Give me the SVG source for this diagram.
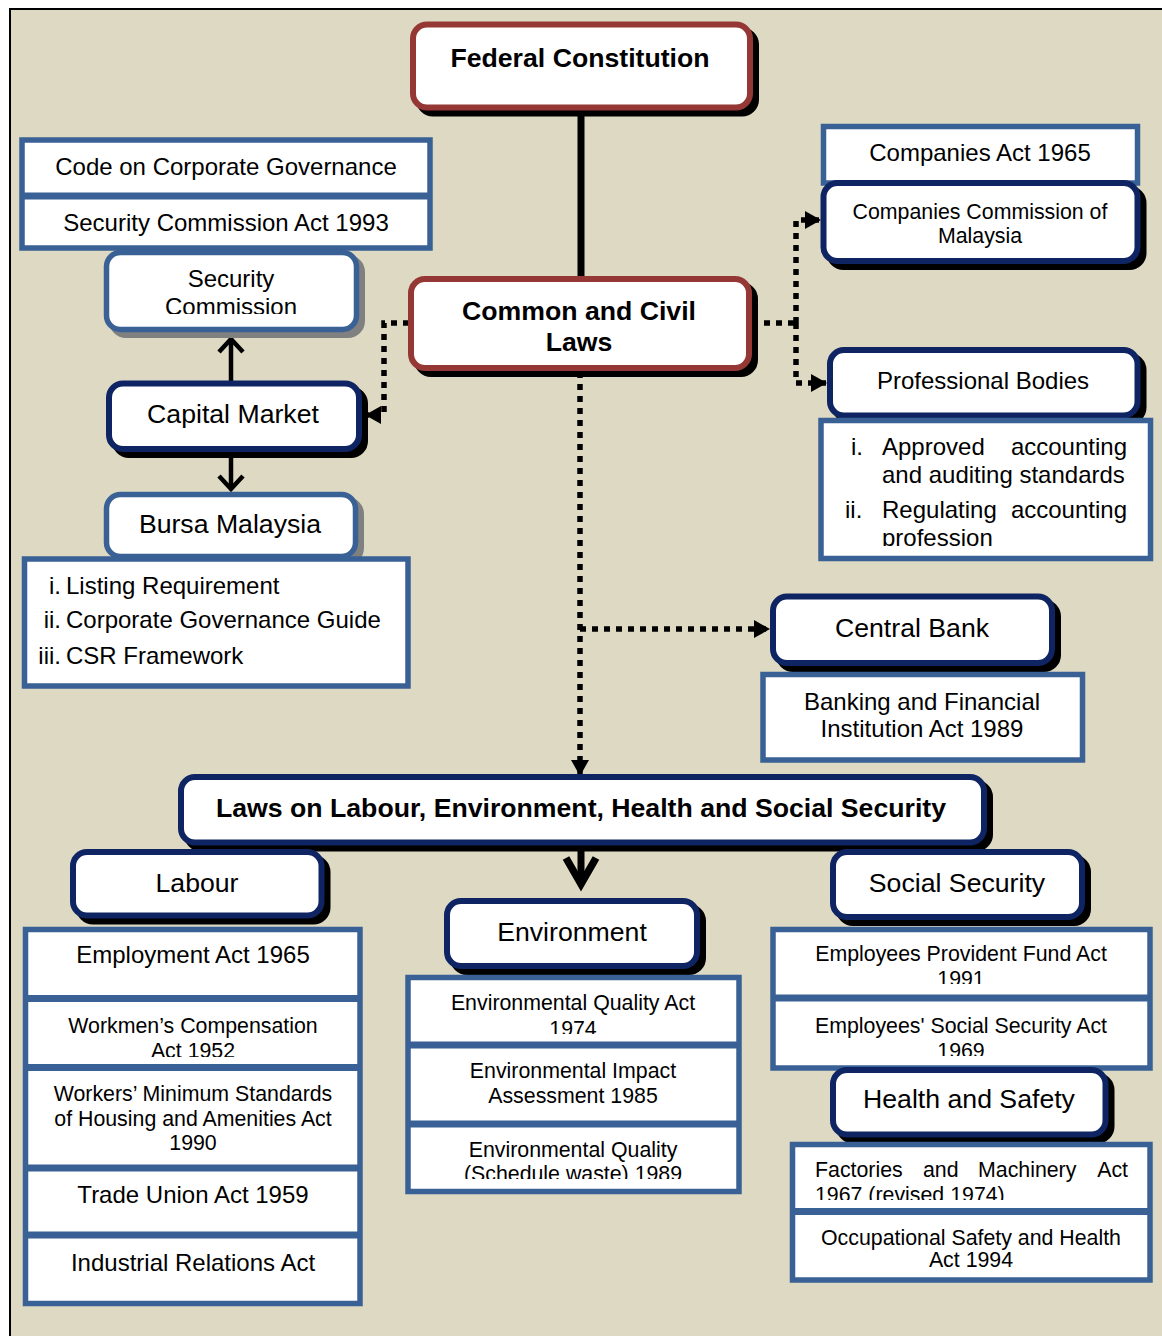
<svg xmlns="http://www.w3.org/2000/svg" width="1162" height="1336" viewBox="0 0 1162 1336">
  <style>
    text { font-family: "Liberation Sans", Arial, sans-serif; fill: #000; text-anchor: middle; }
    .b { font-weight: bold; font-size: 26.67px; }
    .t20 { font-size: 26.67px; }
    .t18 { font-size: 24px; }
    .t16 { font-size: 21.33px; }
    .st { text-anchor: start; }
    .en { text-anchor: end; }
    .red { fill: #fff; stroke: #953735; stroke-width: 6; }
    .navy { fill: #fff; stroke: #0f2463; stroke-width: 6; }
    .blue { fill: #fff; stroke: #3a6195; stroke-width: 5.5; }
    .sep { fill: none; stroke: #3a6195; stroke-width: 7; }
    .shd { fill: #000; stroke: #000; stroke-width: 6; }
    .gshd { fill: #808080; stroke: #808080; stroke-width: 6; }
    .dot { fill: none; stroke: #000; stroke-width: 5.5; stroke-dasharray: 6 6; }
    .solid { fill: none; stroke: #000; stroke-width: 4.5; }
  </style>
  <defs>
    <marker id="tri" markerUnits="userSpaceOnUse" markerWidth="16" markerHeight="18" refX="16" refY="9" orient="auto">
      <path d="M0,0 L16,9 L0,18 z" fill="#000"/>
    </marker>
    <clipPath id="cSec"><rect x="100" y="250" width="260" height="64"/></clipPath>
    <clipPath id="cProf"><rect x="820" y="420" width="330" height="126"/></clipPath>
    <clipPath id="cWork"><rect x="25" y="998" width="335" height="59"/></clipPath>
    <clipPath id="cEq"><rect x="408" y="978" width="331" height="56"/></clipPath>
    <clipPath id="cSw"><rect x="408" y="1124" width="331" height="55"/></clipPath>
    <clipPath id="cEpf"><rect x="773" y="929" width="377" height="55"/></clipPath>
    <clipPath id="cSocso"><rect x="773" y="998" width="377" height="58"/></clipPath>
    <clipPath id="cFma"><rect x="792" y="1144" width="358" height="56"/></clipPath>
  </defs>

  <!-- page and frame -->
  <rect x="0" y="0" width="1162" height="1336" fill="#fff"/>
  <rect x="10" y="9" width="1160" height="1340" fill="#ddd9c3" stroke="#000" stroke-width="2"/>

  <!-- connectors -->
  <g id="connectors">
    <line x1="581" y1="112" x2="581" y2="278" stroke="#000" stroke-width="7"/>
    <path class="dot" d="M409,323 H384 V415 H365" marker-end="url(#tri)"/>
    <path class="dot" d="M752,323 H796"/>
    <path class="dot" d="M796,323 V220 H821" marker-end="url(#tri)"/>
    <path class="dot" d="M796,323 V383 H827" marker-end="url(#tri)"/>
    <path class="dot" d="M580,372 V776" marker-end="url(#tri)"/>
    <path class="dot" d="M580,629 H770" marker-end="url(#tri)"/>
    <path class="solid" d="M231,381 V340"/>
    <path class="solid" d="M219,352 L231,339 L243,352" stroke-linejoin="miter"/>
    <path class="solid" d="M231,452 V488"/>
    <path class="solid" d="M219,476 L231,489 L243,476" stroke-linejoin="miter"/>
    <path d="M581,848 V882" stroke="#000" stroke-width="7" fill="none"/>
    <path d="M566,858 L581,884 L596,858" stroke="#000" stroke-width="7.5" fill="none"/>
  </g>

  <!-- top -->
  <g id="federal-constitution">
    <rect class="shd" x="419" y="30.5" width="337" height="83" rx="14"/>
    <rect class="red" x="413" y="24.5" width="337" height="83" rx="14"/>
    <text class="b" x="580" y="67">Federal Constitution</text>
  </g>
  <g id="common-civil-laws">
    <rect class="shd" x="417" y="285" width="338" height="89" rx="14"/>
    <rect class="red" x="411" y="279" width="338" height="89" rx="14"/>
    <text class="b" x="579" y="320">Common and Civil</text>
    <text class="b" x="579" y="351">Laws</text>
  </g>

  <!-- capital market branch -->
  <g id="sc-acts">
    <rect class="blue" x="22" y="140" width="408" height="108"/>
    <line class="sep" x1="22" y1="196" x2="430" y2="196"/>
    <text class="t18" x="226" y="175">Code on Corporate Governance</text>
    <text class="t18" x="226" y="231">Security Commission Act 1993</text>
  </g>
  <g id="security-commission">
    <rect class="gshd" x="112" y="258" width="250" height="77" rx="14"/>
    <rect class="blue" x="106.5" y="252.5" width="250" height="77" rx="14"/>
    <text class="t18" x="231" y="287">Security</text>
    <text class="t18" x="231" y="315" clip-path="url(#cSec)">Commission</text>
  </g>
  <g id="capital-market">
    <rect class="shd" x="115" y="389.5" width="250" height="65.5" rx="14"/>
    <rect class="navy" x="109" y="383.5" width="250" height="65.5" rx="14"/>
    <text class="t20" x="233" y="423">Capital Market</text>
  </g>
  <g id="bursa-malaysia">
    <rect class="gshd" x="112" y="500" width="249" height="62" rx="14"/>
    <rect class="blue" x="106.5" y="494.5" width="249" height="62" rx="14"/>
    <text class="t20" x="230" y="533">Bursa Malaysia</text>
  </g>
  <g id="bursa-items">
    <rect class="blue" x="24.5" y="559" width="383.5" height="127"/>
    <text class="t18 en" x="61" y="594">i.</text>
    <text class="t18 st" x="66" y="594">Listing Requirement</text>
    <text class="t18 en" x="61" y="628">ii.</text>
    <text class="t18 st" x="66" y="628">Corporate Governance Guide</text>
    <text class="t18 en" x="61" y="664">iii.</text>
    <text class="t18 st" x="66" y="664">CSR Framework</text>
  </g>

  <!-- companies branch -->
  <g id="companies-act">
    <rect class="blue" x="823.5" y="126.5" width="314" height="56.5"/>
    <text class="t18" x="980" y="161">Companies Act 1965</text>
  </g>
  <g id="companies-commission">
    <rect class="shd" x="829.5" y="189" width="314" height="78" rx="14"/>
    <rect class="navy" x="823.5" y="183" width="314" height="78" rx="14"/>
    <text class="t16" x="980" y="219">Companies Commission of</text>
    <text class="t16" x="980" y="243">Malaysia</text>
  </g>
  <g id="professional-bodies">
    <rect class="shd" x="836" y="356" width="307.5" height="65.5" rx="14"/>
    <rect class="navy" x="830" y="350" width="307.5" height="65.5" rx="14"/>
    <text class="t18" x="983" y="389">Professional Bodies</text>
  </g>
  <g id="professional-items">
    <rect class="blue" x="821" y="420.5" width="329.5" height="138"/>
    <text class="t18 st" x="851" y="455">i.</text>
    <text class="t18 st" x="882" y="455">Approved</text>
    <text class="t18 en" x="1127" y="455">accounting</text>
    <text class="t18 st" x="882" y="483">and auditing standards</text>
    <text class="t18 st" x="845" y="518">ii.</text>
    <text class="t18 st" x="882" y="518">Regulating</text>
    <text class="t18 en" x="1127" y="518">accounting</text>
    <text class="t18 st" x="882" y="546" clip-path="url(#cProf)">profession</text>
  </g>

  <!-- central bank -->
  <g id="central-bank">
    <rect class="shd" x="779" y="602.5" width="279" height="66.5" rx="14"/>
    <rect class="navy" x="773" y="596.5" width="279" height="66.5" rx="14"/>
    <text class="t20" x="912" y="637">Central Bank</text>
  </g>
  <g id="banking-act">
    <rect class="blue" x="763" y="674.5" width="319.5" height="85.5"/>
    <text class="t18" x="922" y="710">Banking and Financial</text>
    <text class="t18" x="922" y="737">Institution Act 1989</text>
  </g>

  <!-- labour, environment, health and social security -->
  <g id="laws-labour-env">
    <rect class="shd" x="187" y="783" width="803" height="65.5" rx="14"/>
    <rect class="navy" x="181" y="777" width="803" height="65.5" rx="14"/>
    <text class="b" x="581" y="817" textLength="730" lengthAdjust="spacingAndGlyphs">Laws on Labour, Environment, Health and Social Security</text>
  </g>

  <g id="labour">
    <rect class="shd" x="79" y="858" width="248.5" height="63.5" rx="14"/>
    <rect class="navy" x="73" y="852" width="248.5" height="63.5" rx="14"/>
    <text class="t20" x="197" y="892">Labour</text>
  </g>
  <g id="labour-acts">
    <rect class="blue" x="25.5" y="929.5" width="334.5" height="374"/>
    <line class="sep" x1="25.5" y1="998.5" x2="360" y2="998.5"/>
    <line class="sep" x1="25.5" y1="1067.5" x2="360" y2="1067.5"/>
    <line class="sep" x1="25.5" y1="1168" x2="360" y2="1168"/>
    <line class="sep" x1="25.5" y1="1235" x2="360" y2="1235"/>
    <text class="t18" x="193" y="963">Employment Act 1965</text>
    <text class="t16" x="193" y="1033">Workmen’s Compensation</text>
    <text class="t16" x="193" y="1058" clip-path="url(#cWork)">Act 1952</text>
    <text class="t16" x="193" y="1101">Workers’ Minimum Standards</text>
    <text class="t16" x="193" y="1126">of Housing and Amenities Act</text>
    <text class="t16" x="193" y="1150">1990</text>
    <text class="t18" x="193" y="1203">Trade Union Act 1959</text>
    <text class="t18" x="193" y="1271">Industrial Relations Act</text>
  </g>

  <g id="environment">
    <rect class="shd" x="453" y="907" width="250" height="65" rx="14"/>
    <rect class="navy" x="447" y="901" width="250" height="65" rx="14"/>
    <text class="t20" x="572" y="941">Environment</text>
  </g>
  <g id="environment-acts">
    <rect class="blue" x="408" y="977.5" width="331" height="214"/>
    <line class="sep" x1="408" y1="1045" x2="739" y2="1045"/>
    <line class="sep" x1="408" y1="1124" x2="739" y2="1124"/>
    <text class="t16" x="573" y="1010">Environmental Quality Act</text>
    <text class="t16" x="573" y="1036" clip-path="url(#cEq)">1974</text>
    <text class="t16" x="573" y="1078">Environmental Impact</text>
    <text class="t16" x="573" y="1103">Assessment 1985</text>
    <text class="t16" x="573" y="1157">Environmental Quality</text>
    <text class="t16" x="573" y="1181" clip-path="url(#cSw)">(Schedule waste) 1989</text>
  </g>

  <g id="social-security">
    <rect class="shd" x="839" y="858" width="249" height="65" rx="14"/>
    <rect class="navy" x="833" y="852" width="249" height="65" rx="14"/>
    <text class="t20" x="957" y="892">Social Security</text>
  </g>
  <g id="social-security-acts">
    <rect class="blue" x="773" y="929.5" width="377" height="138.5"/>
    <line class="sep" x1="773" y1="998" x2="1150" y2="998"/>
    <text class="t16" x="961" y="961">Employees Provident Fund Act</text>
    <text class="t16" x="961" y="986" clip-path="url(#cEpf)">1991</text>
    <text class="t16" x="961" y="1033">Employees' Social Security Act</text>
    <text class="t16" x="961" y="1058" clip-path="url(#cSocso)">1969</text>
  </g>

  <g id="health-safety">
    <rect class="shd" x="839" y="1076" width="272.5" height="64.5" rx="14"/>
    <rect class="navy" x="833" y="1070" width="272.5" height="64.5" rx="14"/>
    <text class="t20" x="969" y="1108">Health and Safety</text>
  </g>
  <g id="health-safety-acts">
    <rect class="blue" x="792.5" y="1144.5" width="357.5" height="135.5"/>
    <line class="sep" x1="792.5" y1="1211.5" x2="1150" y2="1211.5"/>
    <text class="t16 st" x="815" y="1177">Factories</text>
    <text class="t16 st" x="923" y="1177">and</text>
    <text class="t16 st" x="978" y="1177">Machinery</text>
    <text class="t16 en" x="1128" y="1177">Act</text>
    <text class="t16 st" x="815" y="1202" clip-path="url(#cFma)">1967 (revised 1974)</text>
    <text class="t16" x="971" y="1245">Occupational Safety and Health</text>
    <text class="t16" x="971" y="1267">Act 1994</text>
  </g>
</svg>
